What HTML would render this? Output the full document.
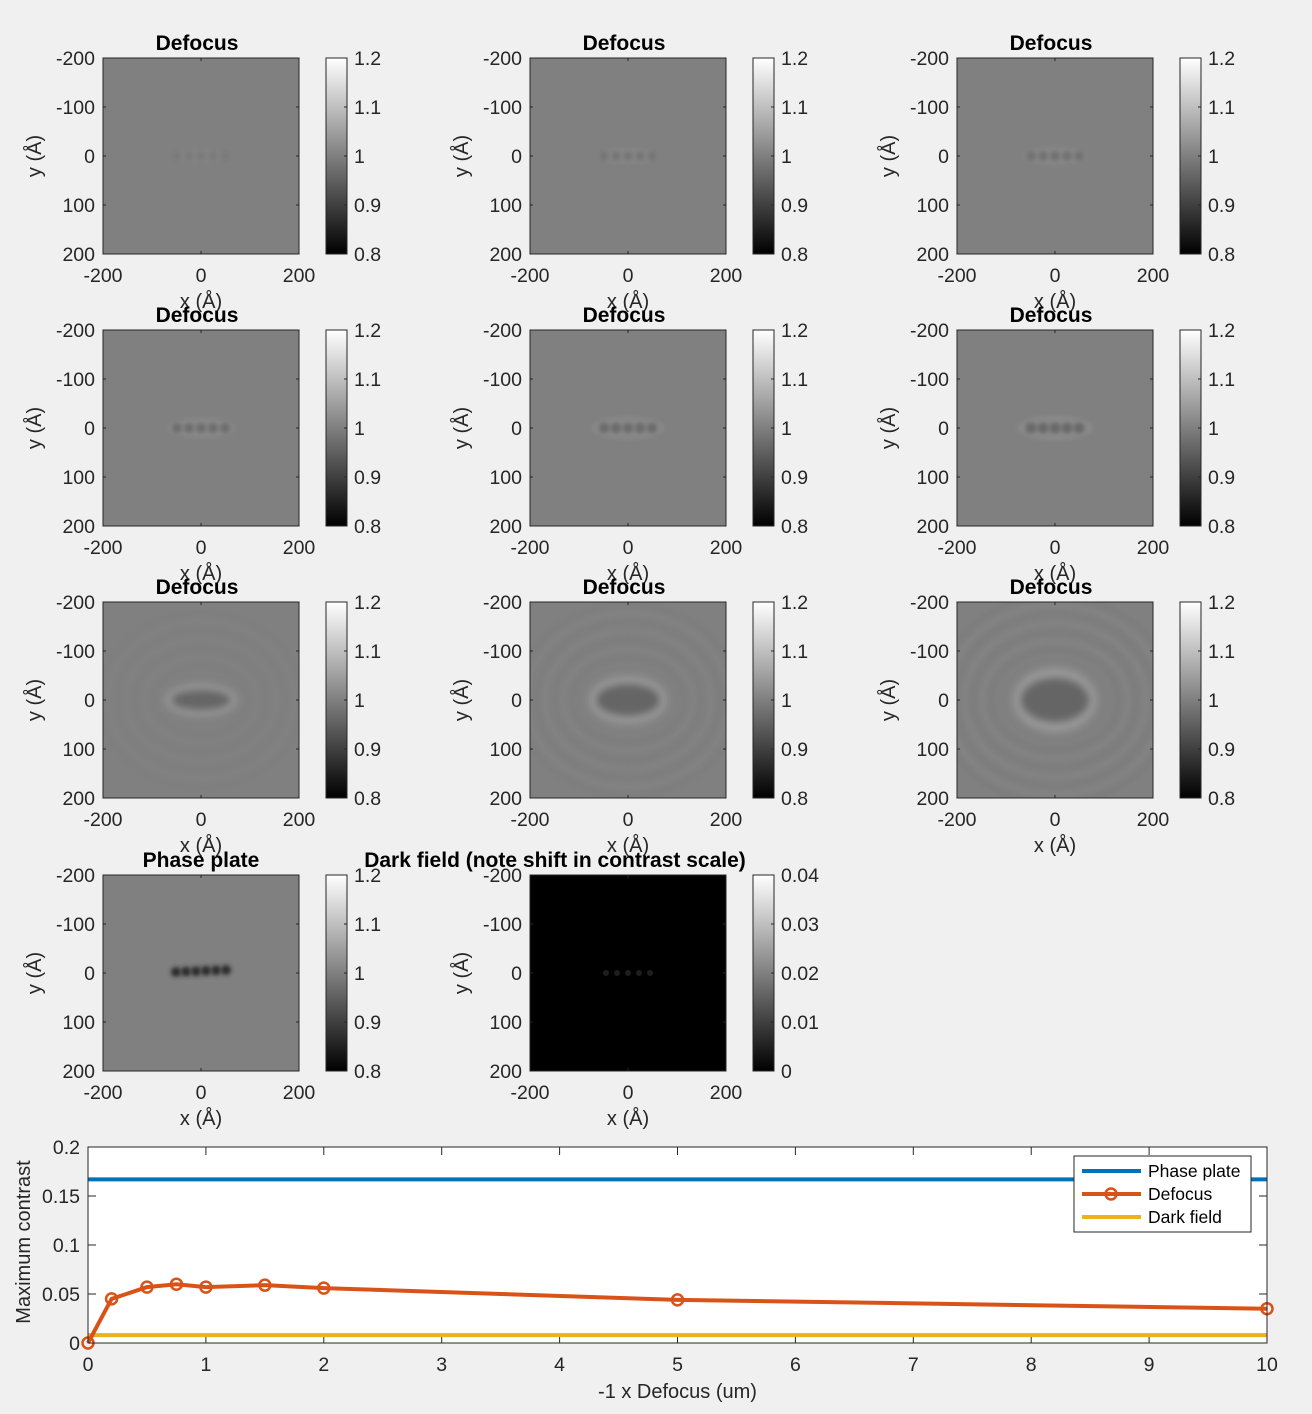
<!DOCTYPE html>
<html><head><meta charset="utf-8">
<style>
html,body{margin:0;padding:0;background:#f0f0f0;}
svg{display:block;font-family:"Liberation Sans",Arial,sans-serif;}
</style></head>
<body>
<svg id="fig" width="1312" height="1414" viewBox="0 0 1312 1414" xmlns="http://www.w3.org/2000/svg">
<defs id="defs">
  <linearGradient id="cbgrad" x1="0" y1="1" x2="0" y2="0">
    <stop offset="0" stop-color="#000"/><stop offset="1" stop-color="#fff"/>
  </linearGradient>
  <filter id="blur1" x="-50%" y="-50%" width="200%" height="200%"><feGaussianBlur stdDeviation="2"/></filter>
  <filter id="blur3" x="-50%" y="-50%" width="200%" height="200%"><feGaussianBlur stdDeviation="4"/></filter>
</defs>
<g id="panels"></g>
<g id="chart"></g>
</svg>
<script>
// ---- line chart data ----
const defocusX = [0, 0.2, 0.5, 0.75, 1, 1.5, 2, 5, 10];
const defocusY = [0, 0.045, 0.057, 0.060, 0.057, 0.059, 0.056, 0.044, 0.035];
const phasePlateY = [0.167];
const darkFieldY = [0.008];
const xTicks = [0,1,2,3,4,5,6,7,8,9,10];
const yTicks = [0,0.05,0.1,0.15,0.2];
const yTickLabels = ["0","0.05","0.1","0.15","0.2"];
const cbTicks = ["1.2","1.1","1","0.9","0.8"];
const cbTicksDark = ["0.04","0.03","0.02","0.01","0"];
const imgTicks = ["-200","-100","0","100","200"];
const panelTitles = ["Defocus","Defocus","Defocus","Defocus","Defocus","Defocus","Defocus","Defocus","Defocus","Phase plate","Dark field (note shift in contrast scale)"];
const blobStrength = [0.05,0.3,0.45,0.6,0.65,0.7,0.8,0.9,1.0,1.0,0.15];

const NS="http://www.w3.org/2000/svg";
function mk(tag, attrs, parent){const e=document.createElementNS(NS,tag);for(const k in attrs)e.setAttribute(k,attrs[k]);if(parent)parent.appendChild(e);return e;}
function txt(s, attrs, parent){const e=mk("text",attrs,parent);e.textContent=s;return e;}

const D=document.getElementById("defs");
const P=document.getElementById("panels");
const FS=19.5;
const colsX=[103,530,957], rowsY=[58,330,602,875];
for(let i=0;i<11;i++){
  const ax=colsX[i%3], ay=rowsY[Math.floor(i/3)], S=196;
  const cp=mk("clipPath",{id:"clip"+i},D);
  mk("rect",{x:ax,y:ay,width:S,height:S},cp);
  const g=mk("g",{},P);
  
  
  const dark = i===10, pp = i===9;
  const img=mk("rect",{x:ax,y:ay,width:S,height:S,fill:dark?"#000":"#808080"},g);
  
  
  const cx=ax+98, cy=ay+98, s=blobStrength[i];
  const bl=mk("g",{"clip-path":"url(#clip"+i+")"},g);
  
  
  if(dark){
    for(let k=0;k<5;k++) mk("circle",{cx:cx-22+k*11,cy:cy,r:3,fill:"#1e1e1e"},bl);
  } else if(pp){
    for(let k=0;k<6;k++) mk("circle",{cx:cx-25+k*10,cy:cy-1+k*-0.4,r:5,fill:"#2a2a2a",filter:"url(#blur1)"},bl);
  } else if(i<6){
    const a=0.2+s*0.6;
    mk("ellipse",{cx:cx,cy:cy,rx:28+i*2,ry:7+i,fill:"#a0a0a0",opacity:a*0.5,filter:"url(#blur1)"},bl);
    for(let k=0;k<5;k++) mk("circle",{cx:cx-24+k*12,cy:cy,r:4+i*0.3,fill:"#555",opacity:a,filter:"url(#blur1)"},bl);
  } else {
    const e=i-6;
    for(let r=0;r<7;r++) mk("ellipse",{cx:cx,cy:cy,rx:48+e*8+r*9,ry:34+e*8+r*9,fill:"none",stroke:r%2?"#868686":"#7a7a7a","stroke-width":3,opacity:0.3+e*0.3,filter:"url(#blur1)"},bl);
    mk("ellipse",{cx:cx,cy:cy,rx:36+e*3,ry:16+e*8,fill:"#9a9a9a",filter:"url(#blur3)"},bl);
    mk("ellipse",{cx:cx,cy:cy,rx:30+e*2,ry:10+e*6,fill:"#656565",filter:"url(#blur3)"},bl);
  }
  mk("rect",{x:ax,y:ay,width:S,height:S,fill:"none",stroke:"#262626","stroke-width":1},g);
  for(let t=0;t<5;t++){
    const p=t*S/4;
    mk("line",{x1:ax,y1:ay+p,x2:ax+3,y2:ay+p,stroke:"#262626"},g);
    mk("line",{x1:ax+S,y1:ay+p,x2:ax+S-3,y2:ay+p,stroke:"#262626"},g);
    if(t%2===0){
      mk("line",{x1:ax+p,y1:ay+S,x2:ax+p,y2:ay+S-3,stroke:"#262626"},g);
      mk("line",{x1:ax+p,y1:ay,x2:ax+p,y2:ay+3,stroke:"#262626"},g);
      const xl=txt(imgTicks[t],{x:ax+p,y:ay+S+28,"font-size":FS,"text-anchor":"middle",fill:"#262626"},g);
      
      
    }
    const yl=txt(imgTicks[t],{x:ax-8,y:ay+p+7,"font-size":FS,"text-anchor":"end",fill:"#262626"},g);
    
    
  }
  const xt=txt("x (Å)",{x:ax+98,y:ay+S+54,"font-size":20,"text-anchor":"middle",fill:"#262626"},g);
  
  
  const yt=txt("y (Å)",{x:0,y:0,"font-size":20,"text-anchor":"middle",fill:"#262626",transform:`translate(${ax-62},${ay+98}) rotate(-90)`},g);
  
  
  const tt=txt(panelTitles[i],{x:ax+(dark?25:(pp?98:94)),y:ay-8,"font-size":21,"font-weight":"bold","text-anchor":"middle",fill:"#000"},g);
  
  
  const cbx=ax+223;
  const cb=mk("rect",{x:cbx,y:ay,width:21,height:S,fill:"url(#cbgrad)",stroke:"#262626","stroke-width":1},g);
  
  
  const lab=dark?cbTicksDark:cbTicks;
  for(let t=0;t<5;t++){
    const p=t*S/4;
    mk("line",{x1:cbx+21,y1:ay+p,x2:cbx+18,y2:ay+p,stroke:"#262626"},g);
    const c=txt(lab[t],{x:cbx+28,y:ay+p+7,"font-size":FS,fill:"#262626"},g);
    
    
  }
}

// ---- bottom line chart ----
const C=document.getElementById("chart");
const L=88,R=1267,T=1147,B=1343;
const sx=v=>L+v/10*(R-L), sy=v=>B-v/0.2*(B-T);
const bg=mk("rect",{x:L,y:T,width:R-L,height:B-T,fill:"#fff"},C);


xTicks.forEach(v=>{
  mk("line",{x1:sx(v),y1:B,x2:sx(v),y2:B-8,stroke:"#262626"},C);
  mk("line",{x1:sx(v),y1:T,x2:sx(v),y2:T+8,stroke:"#262626"},C);
  const t=txt(String(v),{x:sx(v),y:B+28,"font-size":FS,"text-anchor":"middle",fill:"#262626"},C);
  
  
});
yTicks.forEach((v,i)=>{
  mk("line",{x1:L,y1:sy(v),x2:L+8,y2:sy(v),stroke:"#262626"},C);
  mk("line",{x1:R,y1:sy(v),x2:R-8,y2:sy(v),stroke:"#262626"},C);
  const t=txt(yTickLabels[i],{x:L-8,y:sy(v)+7,"font-size":FS,"text-anchor":"end",fill:"#262626"},C);
  
  
});
const ppl=mk("line",{x1:L,y1:sy(phasePlateY[0]),x2:R,y2:sy(phasePlateY[0]),stroke:"#0072bd","stroke-width":4},C);


const dfl=mk("line",{x1:L,y1:sy(darkFieldY[0]),x2:R,y2:sy(darkFieldY[0]),stroke:"#edb120","stroke-width":4},C);


const pl=mk("polyline",{points:defocusX.map((x,i)=>sx(x)+","+sy(defocusY[i])).join(" "),fill:"none",stroke:"#d95319","stroke-width":4},C);


defocusX.forEach((x,i)=>{
  const c=mk("circle",{cx:sx(x),cy:sy(defocusY[i]),r:5.5,fill:"none",stroke:"#d95319","stroke-width":2.5},C);
  
  
});
mk("rect",{x:L,y:T,width:R-L,height:B-T,fill:"none",stroke:"#262626"},C);
const xa=txt("-1 x Defocus (um)",{x:(L+R)/2,y:1398,"font-size":20,"text-anchor":"middle",fill:"#262626"},C);


const ya=txt("Maximum contrast",{x:0,y:0,"font-size":20,"text-anchor":"middle",fill:"#262626",transform:`translate(30,${(T+B)/2-3}) rotate(-90)`},C);


// legend
const lg=mk("g",{},C);


mk("rect",{x:1074,y:1156,width:177,height:76,fill:"#fff",stroke:"#262626"},lg);
const ents=[["Phase plate","#0072bd",false],["Defocus","#d95319",true],["Dark field","#edb120",false]];
ents.forEach((e,i)=>{
  const y=1171+i*23;
  const eg=mk("g",{},lg);
  
  
  mk("line",{x1:1082,y1:y,x2:1141,y2:y,stroke:e[1],"stroke-width":4},eg);
  if(e[2]) mk("circle",{cx:1111,cy:y,r:5.5,fill:"none",stroke:e[1],"stroke-width":2.5},eg);
  txt(e[0],{x:1148,y:y+6,"font-size":17.5,fill:"#000"},eg);
});
</script>
</body></html>
